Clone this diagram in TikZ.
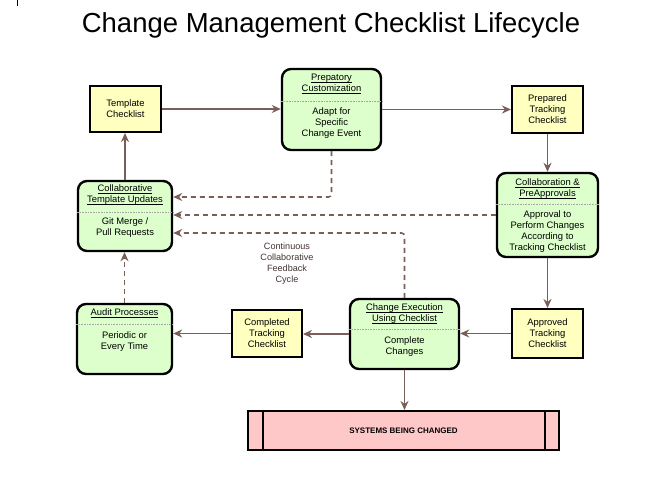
\documentclass[tikz,border=0pt]{standalone}
\usepackage{fontspec}
\setmainfont{Liberation Sans}
\usetikzlibrary{arrows.meta,positioning}
\definecolor{chkyellow}{RGB}{255,255,192}
\definecolor{stagegreen}{RGB}{221,255,204}
\definecolor{syspink}{RGB}{255,200,200}
\definecolor{flowbrown}{RGB}{122,94,88}
\newcommand{\boxfont}{\fontsize{9.4}{11}\selectfont}
\newcommand{\hdline}[1]{\underline{\smash{#1}}}

\tikzset{
  checklist/.style={draw=black, line width=2pt, fill=chkyellow, align=center,
    font=\boxfont, inner sep=0pt},
  stage/.style={draw=black, line width=2.4pt, fill=stagegreen,
    rounded corners=9pt, inner sep=0pt},
  stagetext/.style={align=center, font=\boxfont, inner sep=0pt},
  divider/.style={gray!70, densely dotted, line width=0.6pt},
  flow/.style={flowbrown, line width=1.6pt, -{Stealth[length=9pt,width=8pt]}},
  feedback/.style={flow, dash pattern=on 5pt off 4pt},
}

\begin{document}
\begin{tikzpicture}[x=1pt, y=-1pt]
  \useasboundingbox (0,0) rectangle (646,478);
  \draw[line width=0.8pt] (17,0) -- (17,6);
  \node[font=\fontsize{27.5}{30}\selectfont, anchor=base] (title) at (331,33)
    {Change Management Checklist Lifecycle};

  % checklists
  \node[checklist, minimum width=71pt, minimum height=46pt] (template) at (125.5,109) {Template\\Checklist};
  \node[checklist, minimum width=71pt, minimum height=47pt] (prepared) at (547.5,109.5) {Prepared\\Tracking\\Checklist};
  \node[checklist, minimum width=71pt, minimum height=49pt] (approved) at (547.5,333.5) {Approved\\Tracking\\Checklist};
  \node[checklist, minimum width=70pt, minimum height=47pt] (completed) at (267,333.5) {Completed\\Tracking\\Checklist};

  % stages
  \node[stage, minimum width=99pt, minimum height=81pt] (prep) at (331.5,109.5) {};
  \draw[divider] (prep.west |- 0,101) -- (prep.east |- 0,101);
  \node[stagetext] (prephead) at (331.5,87.5) {\hdline{Prepatory}\\\hdline{Customization}};
  \node[stagetext] (prepbody) at (331.5,123) {Adapt for\\Specific\\Change Event};

  \node[stage, minimum width=101pt, minimum height=84pt] (preappr) at (547.5,215) {};
  \draw[divider] (preappr.west |- 0,204) -- (preappr.east |- 0,204);
  \node[stagetext] (preapprhead) at (547.5,192.5) {\hdline{Collaboration \&}\\\hdline{PreApprovals}};
  \node[stagetext] (preapprbody) at (547.5,232) {Approval to\\Perform Changes\\According to\\Tracking Checklist};

  \node[stage, minimum width=94pt, minimum height=70pt] (tmplupd) at (125,216) {};
  \draw[divider] (tmplupd.west |- 0,212) -- (tmplupd.east |- 0,212);
  \node[stagetext] (tmplupdhead) at (125,198) {\hdline{Collaborative}\\\hdline{Template Updates}};
  \node[stagetext] (tmplupdbody) at (125,228) {Git Merge /\\Pull Requests};

  \node[stage, minimum width=95pt, minimum height=70pt] (audit) at (124.5,339) {};
  \draw[divider] (audit.west |- 0,324) -- (audit.east |- 0,324);
  \node[stagetext] (audithead) at (124.5,317) {\hdline{Audit Processes}};
  \node[stagetext] (auditbody) at (124.5,341.5) {Periodic or\\Every Time};

  \node[stage, minimum width=109pt, minimum height=70pt] (exec) at (404.5,334) {};
  \draw[divider] (exec.west |- 0,329) -- (exec.east |- 0,329);
  \node[stagetext] (exechead) at (404.5,317.5) {\hdline{Change Execution}\\\hdline{Using Checklist}};
  \node[stagetext] (execbody) at (404.5,346.5) {Complete\\Changes};

  % systems
  \node[draw=black, line width=2pt, fill=syspink, minimum width=311pt, minimum height=39pt,
    font=\fontsize{8}{9}\selectfont\bfseries] (sys) at (403.5,430.5) {SYSTEMS BEING CHANGED};
  \draw[line width=2pt] ([xshift=16pt]sys.north west) -- ([xshift=16pt]sys.south west);
  \draw[line width=2pt] ([xshift=-15pt]sys.north east) -- ([xshift=-15pt]sys.south east);

  \node[stagetext, font=\fontsize{9.1}{11}\selectfont, text=flowbrown!55!black] (cycle) at (287,263.5)
    {Continuous\\Collaborative\\Feedback\\Cycle};

  % main flow
  \draw[flow] (template.east) -- (prep.west |- template.east);
  \draw[flow] (prep.east) -- (prepared.west |- prep.east);
  \draw[flow] (prepared.south) -- (preappr.north);
  \draw[flow] (preappr.south) -- (approved.north);
  \draw[flow] (approved.west) -- (approved.west -| exec.east);
  \draw[flow] (exec.west) -- (exec.west -| completed.east);
  \draw[flow] (completed.west) -- (completed.west -| audit.east);
  \draw[flow] (exec.south) -- (exec.south |- sys.north);
  \draw[flow] (tmplupd.north) -- (tmplupd.north |- template.south);

  % feedback
  \coordinate (fbprep) at (0,197);
  \coordinate (fbexec) at (0,233);
  \draw[feedback] (audit.north) -- (audit.north |- tmplupd.south);
  \draw[feedback, rounded corners=3pt] (prep.south) |- (tmplupd.east |- fbprep);
  \draw[feedback] (preappr.west) -- (tmplupd.east |- preappr.west);
  \draw[feedback, rounded corners=3pt] (exec.north) |- (tmplupd.east |- fbexec);
\end{tikzpicture}
\end{document}
